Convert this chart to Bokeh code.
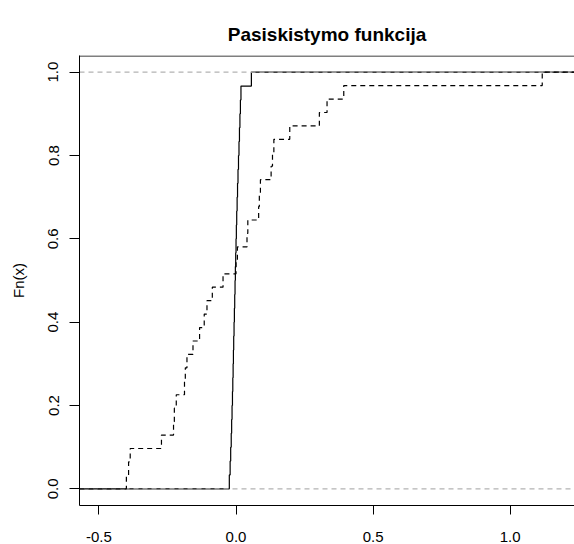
from bokeh.plotting import figure
from bokeh.models import Range1d, LinearAxis, FixedTicker, NumeralTickFormatter, BoxAnnotation
from bokeh.embed import file_html
from bokeh.resources import INLINE

# Two samples whose empirical distribution functions are compared
sample_solid = [
    -0.0245, -0.0215, -0.0195, -0.0175, -0.0160, -0.0145, -0.0130, -0.0118,
    -0.0106, -0.0095, -0.0085, -0.0072, -0.0060, -0.0048, -0.0036, -0.0024,
    -0.0012, 0.0000, 0.0012, 0.0025, 0.0040, 0.0055, 0.0072, 0.0090,
    0.0108, 0.0125, 0.0142, 0.0160, 0.0180, 0.0560,
]
sample_dashed = [
    -0.400, -0.392, -0.386, -0.272, -0.228, -0.225, -0.218, -0.188,
    -0.185, -0.179, -0.157, -0.133, -0.116, -0.106, -0.0865, -0.0474,
    0.000, 0.005, 0.040, 0.043, 0.0825, 0.085, 0.089, 0.128,
    0.133, 0.138, 0.196, 0.304, 0.332, 0.393, 1.117,
]

x_ticks = [-0.5, 0.0, 0.5, 1.0]
y_ticks = [0.0, 0.2, 0.4, 0.6, 0.8, 1.0]
ref_levels = [0.0, 1.0]

X_LO, X_HI = -0.571, 1.2347
Y_LO, Y_HI = -0.04, 1.04

FONT = "Liberation Sans"


def ecdf_steps(values, lo, hi):
    """Step coordinates of the empirical CDF, extended to the plot limits."""
    v = sorted(values)
    n = len(v)
    xs = [lo] + v + [hi]
    ys = [0.0] + [(i + 1) / n for i in range(n)] + [1.0]
    return xs, ys


p = figure(
    width=574, height=544,
    x_range=Range1d(X_LO, X_HI), y_range=Range1d(Y_LO, Y_HI),
    output_backend="svg", toolbar_location=None,
    title="Pasiskistymo funkcija",
    min_border_left=79, min_border_right=0,
    min_border_top=55, min_border_bottom=39,
    x_axis_type=None, y_axis_type=None,
)
p.outline_line_color = None
p.background_fill_color = "white"
p.border_fill_color = "white"
p.xgrid.visible = False
p.ygrid.visible = False

p.title.text_font = FONT
p.title.text_font_size = "19px"
p.title.text_font_style = "bold"
p.title.align = "center"
p.title.offset = 4.5
p.title.standoff = 21
p.title.text_color = "black"


def style_axis(ax, tick_out):
    ax.axis_line_color = "black"
    ax.axis_line_width = 1
    ax.major_tick_line_color = "black"
    ax.major_tick_out = tick_out
    ax.major_tick_in = 0
    ax.minor_tick_line_color = None
    ax.major_label_text_font = FONT
    ax.major_label_text_font_size = "15px"
    ax.major_label_text_color = "black"
    ax.axis_label_text_font = FONT
    ax.axis_label_text_font_size = "15px"
    ax.axis_label_text_font_style = "normal"
    ax.axis_label_text_color = "black"


xaxis = LinearAxis(ticker=FixedTicker(ticks=x_ticks),
                   formatter=NumeralTickFormatter(format="0.0"))
style_axis(xaxis, 9)
xaxis.major_label_standoff = 17
p.add_layout(xaxis, "below")

yaxis = LinearAxis(ticker=FixedTicker(ticks=y_ticks),
                   formatter=NumeralTickFormatter(format="0.0"),
                   axis_label="Fn(x)")
style_axis(yaxis, 10)
yaxis.major_label_orientation = "vertical"
yaxis.major_label_standoff = 11
yaxis.axis_label_standoff = 19
p.add_layout(yaxis, "left")

# top edge of the plot box; the other edges fall outside the canvas
box = BoxAnnotation(left=X_LO - 1.0, right=X_HI + 1.0,
                    bottom=Y_LO - 1.0, top=Y_HI - 0.0012,
                    fill_color=None, fill_alpha=0,
                    line_color="black", line_alpha=1.0, line_width=1)
p.add_layout(box)

xs_a, ys_a = ecdf_steps(sample_solid, X_LO, X_HI)
p.step(xs_a, ys_a, mode="after", line_color="black", line_width=1.2)

p.segment(x0=[X_LO] * len(ref_levels), x1=[X_HI] * len(ref_levels),
          y0=ref_levels, y1=ref_levels,
          line_color="#B3B3B3", line_width=1.2, line_dash="5 4")

xs_b, ys_b = ecdf_steps(sample_dashed, X_LO, X_HI)
p.step(xs_b, ys_b, mode="after", line_color="black", line_width=1.2,
       line_dash="5 4")

open("out.html", "w").write(file_html(p, INLINE))
